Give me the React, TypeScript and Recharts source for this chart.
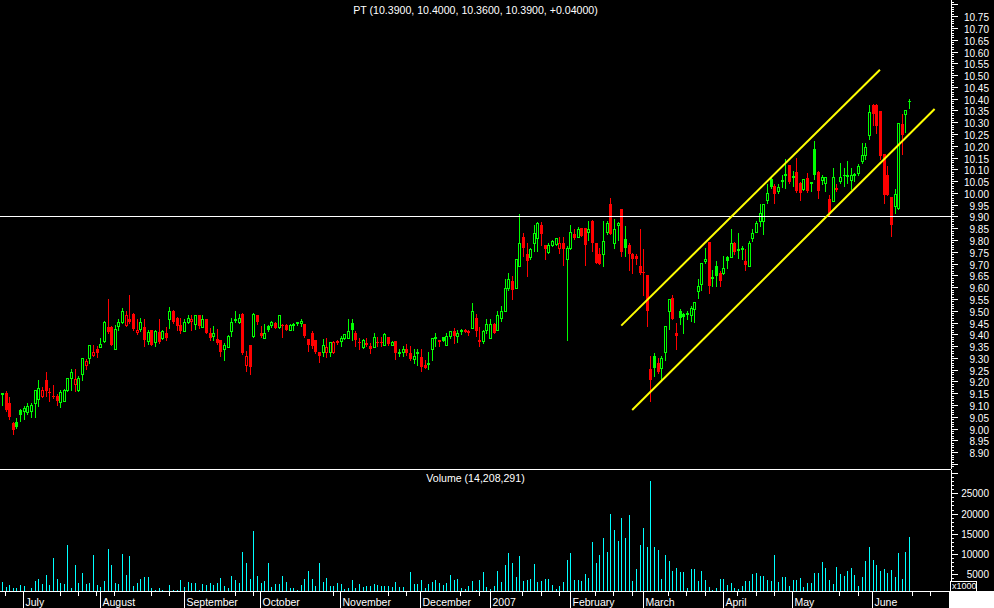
import { ComposedChart, Bar, XAxis, YAxis, ReferenceLine } from 'recharts'

// PT daily bars, 23 Jun 2006 .. 15 Jun 2007
const open = [
  9.150, 9.152, 9.107, 9.022, 9.030, 9.077, 9.074, 9.070, 9.073, 9.107,
  9.126, 9.138, 9.208, 9.157, 9.140, 9.138, 9.114, 9.118, 9.163, 9.213,
  9.191, 9.163, 9.230, 9.269, 9.299, 9.311, 9.336, 9.346, 9.371, 9.433,
  9.432, 9.337, 9.437, 9.452, 9.440, 9.463, 9.487, 9.408, 9.422, 9.432,
  9.371, 9.419, 9.368, 9.411, 9.385, 9.404, 9.463, 9.501, 9.470, 9.440,
  9.413, 9.452, 9.456, 9.442, 9.480, 9.432, 9.463, 9.404, 9.392, 9.382,
  9.374, 9.338, 9.346, 9.413, 9.463, 9.453, 9.487, 9.269, 9.353, 9.392,
  9.480, 9.404, 9.385, 9.435, 9.438, 9.449, 9.432, 9.440, 9.440, 9.420,
  9.441, 9.452, 9.449, 9.442, 9.381, 9.404, 9.374, 9.324, 9.324, 9.324,
  9.324, 9.325, 9.371, 9.371, 9.384, 9.384, 9.449, 9.404, 9.366, 9.347,
  9.358, 9.350, 9.347, 9.369, 9.368, 9.354, 9.389, 9.354, 9.372, 9.319,
  9.326, 9.336, 9.319, 9.297, 9.324, 9.303, 9.268, 9.278, 9.338, 9.388,
  9.374, 9.389, 9.354, 9.392, 9.413, 9.392, 9.418, 9.420, 9.416, 9.428,
  9.470, 9.374, 9.371, 9.420, 9.385, 9.442, 9.420, 9.470, 9.498, 9.597,
  9.626, 9.597, 9.689, 9.814, 9.739, 9.729, 9.788, 9.809, 9.862, 9.777,
  9.749, 9.781, 9.785, 9.767, 9.788, 9.720, 9.767, 9.824, 9.814, 9.852,
  9.852, 9.834, 9.883, 9.788, 9.739, 9.739, 9.834, 9.951, 9.788, 9.866,
  9.930, 9.805, 9.777, 9.739, 9.732, 9.692, 9.664, 9.650, 9.251, 9.307,
  9.279, 9.258, 9.324, 9.498, 9.555, 9.404, 9.501, 9.488, 9.487, 9.484,
  9.508, 9.583, 9.614, 9.710, 9.791, 9.642, 9.692, 9.661, 9.661, 9.729,
  9.729, 9.788, 9.760, 9.766, 9.710, 9.689, 9.809, 9.834, 9.880, 9.880,
  9.969, 10.057, 10.029, 10.007, 10.052, 10.077, 10.118, 10.068, 10.090, 10.043,
  10.017, 10.064, 10.044, 10.187, 10.090, 10.054, 10.043, 9.975, 9.965, 10.022,
  10.050, 10.078, 10.072, 10.054, 10.077, 10.085, 10.135, 10.163, 10.244, 10.375,
  10.375, 10.347, 10.166, 10.074, 9.983, 9.944, 9.937, 10.293, 10.333, 10.39,
]

const high = [
  9.153, 9.160, 9.135, 9.030, 9.046, 9.085, 9.095, 9.107, 9.107, 9.165,
  9.208, 9.175, 9.242, 9.173, 9.185, 9.145, 9.162, 9.166, 9.213, 9.251,
  9.251, 9.222, 9.300, 9.297, 9.355, 9.355, 9.350, 9.385, 9.456, 9.548,
  9.435, 9.440, 9.463, 9.512, 9.498, 9.569, 9.490, 9.463, 9.470, 9.463,
  9.420, 9.420, 9.420, 9.463, 9.420, 9.433, 9.517, 9.505, 9.474, 9.470,
  9.463, 9.480, 9.480, 9.484, 9.482, 9.480, 9.466, 9.425, 9.435, 9.423,
  9.376, 9.364, 9.399, 9.470, 9.501, 9.488, 9.490, 9.329, 9.355, 9.490,
  9.482, 9.435, 9.442, 9.440, 9.456, 9.452, 9.484, 9.442, 9.442, 9.442,
  9.449, 9.453, 9.463, 9.445, 9.382, 9.416, 9.376, 9.326, 9.381, 9.385,
  9.368, 9.372, 9.378, 9.392, 9.402, 9.463, 9.463, 9.413, 9.385, 9.381,
  9.385, 9.364, 9.404, 9.387, 9.389, 9.404, 9.390, 9.372, 9.373, 9.336,
  9.350, 9.357, 9.350, 9.336, 9.336, 9.336, 9.293, 9.327, 9.385, 9.404,
  9.375, 9.390, 9.404, 9.416, 9.425, 9.418, 9.423, 9.421, 9.420, 9.531,
  9.487, 9.431, 9.420, 9.463, 9.463, 9.449, 9.498, 9.520, 9.633, 9.661,
  9.647, 9.720, 9.911, 9.828, 9.788, 9.767, 9.862, 9.876, 9.876, 9.781,
  9.788, 9.800, 9.809, 9.814, 9.814, 9.774, 9.862, 9.845, 9.856, 9.853,
  9.853, 9.883, 9.884, 9.789, 9.767, 9.883, 9.883, 9.979, 9.890, 9.876,
  9.932, 9.859, 9.788, 9.746, 9.740, 9.845, 9.760, 9.652, 9.310, 9.322,
  9.300, 9.307, 9.435, 9.548, 9.569, 9.449, 9.508, 9.491, 9.498, 9.520,
  9.539, 9.633, 9.701, 9.767, 9.792, 9.672, 9.710, 9.668, 9.732, 9.732,
  9.845, 9.791, 9.831, 9.774, 9.760, 9.795, 9.845, 9.882, 9.954, 9.954,
  10.036, 10.064, 10.036, 10.036, 10.078, 10.142, 10.120, 10.092, 10.149, 10.045,
  10.057, 10.085, 10.047, 10.220, 10.092, 10.074, 10.068, 9.993, 10.107, 10.036,
  10.128, 10.107, 10.135, 10.107, 10.085, 10.121, 10.213, 10.213, 10.375, 10.376,
  10.376, 10.348, 10.167, 10.116, 9.984, 10.015, 10.297, 10.337, 10.347, 10.40,
]

const low = [
  9.099, 9.074, 9.039, 8.975, 9.002, 9.032, 9.041, 9.060, 9.049, 9.049,
  9.095, 9.133, 9.138, 9.116, 9.129, 9.102, 9.092, 9.116, 9.160, 9.163,
  9.159, 9.159, 9.208, 9.251, 9.279, 9.307, 9.305, 9.346, 9.367, 9.406,
  9.354, 9.337, 9.418, 9.449, 9.435, 9.447, 9.420, 9.400, 9.413, 9.350,
  9.357, 9.354, 9.350, 9.364, 9.381, 9.375, 9.428, 9.450, 9.418, 9.406,
  9.413, 9.449, 9.420, 9.423, 9.428, 9.430, 9.404, 9.375, 9.378, 9.361,
  9.307, 9.290, 9.346, 9.395, 9.452, 9.449, 9.316, 9.244, 9.230, 9.389,
  9.442, 9.389, 9.385, 9.416, 9.432, 9.425, 9.428, 9.389, 9.418, 9.418,
  9.420, 9.440, 9.435, 9.390, 9.329, 9.343, 9.322, 9.282, 9.307, 9.305,
  9.307, 9.320, 9.357, 9.350, 9.381, 9.384, 9.378, 9.350, 9.336, 9.343,
  9.350, 9.322, 9.347, 9.350, 9.350, 9.353, 9.353, 9.353, 9.297, 9.307,
  9.310, 9.314, 9.293, 9.279, 9.268, 9.244, 9.258, 9.251, 9.289, 9.350,
  9.350, 9.370, 9.353, 9.385, 9.364, 9.367, 9.401, 9.408, 9.398, 9.428,
  9.395, 9.350, 9.364, 9.406, 9.385, 9.404, 9.420, 9.456, 9.498, 9.590,
  9.548, 9.597, 9.689, 9.732, 9.647, 9.718, 9.753, 9.753, 9.781, 9.720,
  9.746, 9.774, 9.777, 9.743, 9.693, 9.375, 9.764, 9.805, 9.814, 9.817,
  9.693, 9.802, 9.753, 9.703, 9.700, 9.692, 9.824, 9.824, 9.767, 9.802,
  9.732, 9.732, 9.672, 9.661, 9.700, 9.654, 9.569, 9.435, 9.116, 9.222,
  9.236, 9.201, 9.293, 9.421, 9.463, 9.336, 9.442, 9.406, 9.463, 9.456,
  9.452, 9.555, 9.590, 9.701, 9.576, 9.604, 9.604, 9.604, 9.654, 9.682,
  9.729, 9.739, 9.725, 9.718, 9.672, 9.689, 9.795, 9.834, 9.859, 9.824,
  9.958, 10.022, 9.958, 9.998, 10.026, 10.022, 10.044, 10.029, 10.005, 9.972,
  10.011, 10.005, 10.007, 10.057, 9.979, 10.036, 10.007, 9.901, 9.965, 10.007,
  10.043, 10.029, 10.043, 10.015, 10.050, 10.078, 10.128, 10.142, 10.227, 10.290,
  10.255, 10.142, 9.958, 9.990, 9.817, 9.916, 9.933, 10.167, 10.258, 10.36,
]

const close = [
  9.152, 9.078, 9.049, 8.993, 9.008, 9.057, 9.088, 9.098, 9.100, 9.163,
  9.173, 9.163, 9.160, 9.155, 9.138, 9.116, 9.155, 9.163, 9.213, 9.241,
  9.211, 9.213, 9.300, 9.288, 9.355, 9.327, 9.321, 9.357, 9.453, 9.411,
  9.354, 9.423, 9.452, 9.500, 9.483, 9.452, 9.422, 9.420, 9.453, 9.377,
  9.412, 9.355, 9.413, 9.368, 9.416, 9.384, 9.501, 9.452, 9.435, 9.415,
  9.452, 9.469, 9.465, 9.481, 9.437, 9.463, 9.405, 9.385, 9.404, 9.364,
  9.324, 9.355, 9.395, 9.453, 9.455, 9.470, 9.319, 9.310, 9.261, 9.487,
  9.452, 9.392, 9.404, 9.420, 9.453, 9.428, 9.481, 9.437, 9.420, 9.440,
  9.443, 9.445, 9.456, 9.392, 9.354, 9.352, 9.324, 9.307, 9.355, 9.348,
  9.368, 9.366, 9.364, 9.385, 9.402, 9.416, 9.418, 9.374, 9.364, 9.374,
  9.364, 9.336, 9.388, 9.368, 9.366, 9.402, 9.357, 9.368, 9.322, 9.327,
  9.338, 9.322, 9.297, 9.307, 9.326, 9.261, 9.258, 9.280, 9.385, 9.390,
  9.368, 9.371, 9.395, 9.416, 9.392, 9.404, 9.420, 9.412, 9.404, 9.501,
  9.413, 9.367, 9.416, 9.442, 9.444, 9.406, 9.484, 9.498, 9.597, 9.633,
  9.590, 9.718, 9.788, 9.767, 9.710, 9.760, 9.828, 9.873, 9.824, 9.760,
  9.781, 9.795, 9.809, 9.788, 9.760, 9.767, 9.834, 9.809, 9.845, 9.819,
  9.778, 9.845, 9.788, 9.703, 9.700, 9.798, 9.873, 9.824, 9.845, 9.873,
  9.750, 9.767, 9.739, 9.720, 9.718, 9.661, 9.660, 9.498, 9.208, 9.258,
  9.239, 9.300, 9.435, 9.548, 9.466, 9.393, 9.470, 9.472, 9.489, 9.512,
  9.539, 9.604, 9.701, 9.718, 9.604, 9.645, 9.648, 9.626, 9.682, 9.710,
  9.788, 9.749, 9.764, 9.767, 9.696, 9.788, 9.828, 9.873, 9.913, 9.954,
  9.998, 10.024, 9.996, 10.024, 10.054, 10.079, 10.046, 10.072, 10.007, 10.000,
  10.057, 10.007, 10.046, 10.074, 10.007, 10.068, 10.069, 9.916, 10.068, 10.012,
  10.068, 10.070, 10.074, 10.075, 10.079, 10.114, 10.163, 10.196, 10.344, 10.333,
  10.286, 10.156, 9.993, 9.990, 9.866, 9.996, 10.297, 10.244, 10.350, 10.39,
]

// volume in thousands of shares
const volume = [
  3020, 1870, 2370, 1630, 1710, 2370, 2120, 1000, 1710, 3350,
  3850, 2700, 4830, 2370, 9030, 3850, 2860, 2610, 12240, 1630,
  7300, 2860, 5330, 2610, 2860, 9770, 2370, 1870, 3350, 11260,
  7300, 2860, 2610, 10020, 4830, 9520, 2120, 2860, 3850, 4340,
  4340, 1630, 1130, 1630, 1130, 950, 2370, 1130, 1130, 3600,
  1870, 3110, 2860, 2860, 1130, 2610, 2370, 2860, 2370, 2860,
  4090, 2120, 1630, 4590, 3600, 2860, 10510, 7800, 3850, 15700,
  4590, 2860, 3350, 7800, 1870, 2610, 2610, 4590, 3110, 1630,
  1630, 1130, 2370, 3850, 5820, 3850, 2120, 7800, 3110, 4090,
  2120, 2120, 2860, 2610, 1380, 1630, 3600, 1630, 2610, 1870,
  2120, 2120, 2610, 2370, 2120, 2120, 2120, 1870, 3110, 1870,
  1870, 950, 5580, 2610, 2610, 3600, 1630, 2610, 3110, 3600,
  2860, 2370, 2860, 4830, 3600, 3850, 1630, 1380, 2120, 3350,
  1130, 3600, 5580, 1870, 1380, 2200, 5820, 3110, 7300, 10270,
  7800, 4340, 9520, 3350, 3600, 3850, 7550, 3110, 3350, 3850,
  3850, 2370, 1380, 2120, 3110, 8540, 10270, 3600, 3600, 3350,
  5080, 4090, 12980, 7800, 9770, 13970, 10510, 19900, 15940, 13230,
  18910, 13970, 19650, 3350, 6320, 12240, 16440, 11750, 28040, 11750,
  11010, 3850, 9770, 8290, 5820, 6560, 5580, 5580, 1630, 6320,
  6320, 3350, 5820, 3600, 1870, 1130, 1630, 3850, 3850, 2370,
  2860, 1630, 1380, 2120, 3350, 3350, 5080, 5330, 4590, 4590,
  3600, 3350, 9770, 3110, 4340, 4340, 2120, 3600, 3600, 4090,
  1870, 2860, 2860, 5330, 5330, 8040, 6560, 3600, 2610, 6810,
  5080, 4590, 5820, 6560, 4830, 2120, 4340, 8290, 11750, 8540,
  7300, 5820, 6320, 5330, 6070, 4340, 10270, 3850, 10510, 14208.291,
]

const months = ['July', 'August', 'September', 'October', 'November', 'December', '2007', 'February', 'March', 'April', 'May', 'June', '']
const monthStarts = [6, 27, 50, 71, 93, 115, 134, 156, 176, 198, 217, 239, 260]
const weekTicks = [1, 16, 21, 26, 31, 41, 46, 64, 69, 91, 106, 111, 126, 131, 143, 148, 153, 163, 168, 173, 183, 188, 193, 202, 207, 212, 230, 235, 250, 255]

const priceLabels = [
  8.9, 8.95, 9.0, 9.05, 9.1, 9.15, 9.2, 9.25, 9.3, 9.35, 9.4, 9.45, 9.5, 9.55, 9.6, 9.65, 9.7, 9.75, 9.8,
  9.85, 9.9, 9.95, 10.0, 10.05, 10.1, 10.15, 10.2, 10.25, 10.3, 10.35, 10.4, 10.45, 10.5, 10.55, 10.6,
  10.65, 10.7, 10.75,
]
const volumeLabels = [5000, 10000, 15000, 20000, 25000]

const supportLevel = 9.9
// hand-drawn channel (bar index, price)
const channelLines = [
  [{ x: 170, y: 9.437 }, { x: 241, y: 10.523 }],
  [{ x: 173, y: 9.079 }, { x: 256, y: 10.356 }],
]

const SLOTS = 261
const AXIS_X = 951
const PRICE_DOMAIN: [number, number] = [8.8286, 10.8186]
const VOL_DOMAIN: [number, number] = [885, 30760]
const FONT = '"Liberation Sans", Arial, sans-serif'
const GREEN = '#00ff00'
const RED = '#ff0000'
const CYAN = '#00ffff'
const YELLOW = '#ffff00'

const rows = Array.from({ length: SLOTS }, (_, i) =>
  i < open.length
    ? { i, o: open[i], h: high[i], l: low[i], c: close[i], pc: i > 0 ? close[i - 1] : open[i], v: volume[i] }
    : { i }
)

// minor axis ticks (unlabelled)
const priceTicks: number[] = []
for (let k = 884; k <= 1081; k++) priceTicks.push(k / 100)
const volumeTicks: number[] = []
for (let k = 1; k <= 30; k++) volumeTicks.push(k * 1000)

const Candle = (props: any) => {
  const { x, y, width, height, payload } = props
  if (payload == null || payload.h == null) return null
  const top = Math.min(y, y + height)
  const span = Math.abs(height)
  const py = (p: number) => top + ((payload.h - p) / (payload.h - payload.l || 1)) * span
  const cx = Math.round(x + width / 2)
  const color = payload.c >= payload.pc ? GREEN : RED
  const bTop = Math.round(py(Math.max(payload.o, payload.c)))
  const bBot = Math.round(py(Math.min(payload.o, payload.c)))
  const hollow = payload.c > payload.o
  return (
    <g>
      <line x1={cx + 0.5} x2={cx + 0.5} y1={Math.round(top)} y2={Math.round(top + span) + 1} stroke={color} strokeWidth={1} />
      {hollow ? (
        <rect x={cx - 0.5} y={bTop + 0.5} width={2} height={Math.max(bBot - bTop, 1)} fill="#000" stroke={color} strokeWidth={1} />
      ) : (
        <rect x={cx - 1} y={bTop} width={3} height={Math.max(bBot - bTop, 1)} fill={color} />
      )}
    </g>
  )
}

const VolumeBar = (props: any) => {
  const { x, y, width, height } = props
  if (!height) return null
  const cx = Math.round(x + width / 2)
  const t = Math.round(y)
  return <rect x={cx} y={t} width={1} height={Math.round(y + height) - t} fill={CYAN} />
}

const PriceTick = (props: any) => {
  const { y, payload } = props
  const v = payload.value
  const major = Math.round(v * 100) % 5 === 0
  const labelled = priceLabels.some(p => Math.abs(p - v) < 0.001)
  const yy = Math.round(y) + 0.5
  return (
    <g>
      <line x1={AXIS_X} x2={AXIS_X + (major ? 7 : 3)} y1={yy} y2={yy} stroke="#fff" />
      {labelled && (
        <text x={989} y={y + 1.5} textAnchor="end" dominantBaseline="central" fill="#fff" fontSize={10} fontFamily={FONT}>
          {v.toFixed(2)}
        </text>
      )}
    </g>
  )
}

const VolumeTick = (props: any) => {
  const { y, payload } = props
  const v = payload.value
  const major = v % 5000 === 0
  const yy = Math.round(y) + 0.5
  return (
    <g>
      <line x1={AXIS_X} x2={AXIS_X + (major ? 7 : 3)} y1={yy} y2={yy} stroke="#fff" />
      {volumeLabels.includes(v) && (
        <text x={989} y={y + 0.5} textAnchor="end" dominantBaseline="central" fill="#fff" fontSize={10} fontFamily={FONT}>
          {v}
        </text>
      )}
    </g>
  )
}

const DateTick = (props: any) => {
  const { x, payload } = props
  const base = 121
  const m = monthStarts.indexOf(payload.value)
  const xx = Math.floor(x) + 0.5
  if (m < 0) return <line x1={xx} x2={xx} y1={base} y2={base + 5} stroke="#fff" />
  return (
    <g>
      <line x1={xx} x2={xx} y1={base} y2={base + 17} stroke="#fff" />
      <text x={xx + 2} y={base + 14.5} fill="#fff" fontSize={10.5} fontFamily={FONT}>
        {months[m]}
      </text>
    </g>
  )
}

const crispWhite = { stroke: '#fff', shapeRendering: 'crispEdges' }

export default function App() {
  const n = open.length - 1
  const change = close[n] - close[n - 1]
  const title = `PT (${open[n].toFixed(4)}, ${high[n].toFixed(4)}, ${low[n].toFixed(4)}, ${close[n].toFixed(4)}, ${change >= 0 ? '+' : ''}${change.toFixed(5)})`
  const volTitle = `Volume (${Math.round(volume[n] * 1000).toLocaleString('en-US')})`

  return (
    <div style={{ position: 'absolute', left: 0, top: 0, width: 994, height: 608, background: '#000', overflow: 'hidden', fontFamily: FONT }}>
      <div style={{ position: 'absolute', left: 0, top: 0 }}>
        <ComposedChart width={994} height={470} data={rows} margin={{ top: 0, right: 0, bottom: 0, left: 0 }}>
          <XAxis dataKey="i" type="category" height={1} tick={false} tickLine={false} axisLine={crispWhite} />
          <YAxis
            orientation="right"
            width={43}
            domain={PRICE_DOMAIN}
            allowDataOverflow
            ticks={priceTicks}
            interval={0}
            tickLine={false}
            axisLine={crispWhite}
            tick={(p: any) => <PriceTick {...p} />}
          />
          <ReferenceLine y={supportLevel} stroke="#fff" strokeWidth={1} shapeRendering="crispEdges" />
          <Bar dataKey={(d: any) => (d.h == null ? null : [d.l, d.h])} shape={(p: any) => <Candle {...p} />} isAnimationActive={false} />
          {channelLines.map((seg, k) => (
            <ReferenceLine key={k} segment={seg} stroke={YELLOW} strokeWidth={2} />
          ))}
        </ComposedChart>
      </div>
      <div style={{ position: 'absolute', left: 0, top: 470 }}>
        <ComposedChart width={994} height={138} data={rows} margin={{ top: 0, right: 0, bottom: 0, left: 0 }}>
          <XAxis
            dataKey="i"
            type="category"
            height={17}
            ticks={[...weekTicks, ...monthStarts]}
            interval={0}
            tickLine={false}
            axisLine={crispWhite}
            tick={(p: any) => <DateTick {...p} />}
          />
          <YAxis
            orientation="right"
            width={43}
            domain={VOL_DOMAIN}
            allowDataOverflow
            ticks={volumeTicks}
            interval={0}
            tickLine={false}
            axisLine={crispWhite}
            tick={(p: any) => <VolumeTick {...p} />}
          />
          <Bar dataKey="v" shape={(p: any) => <VolumeBar {...p} />} isAnimationActive={false} />
        </ComposedChart>
      </div>
      <div style={{ position: 'absolute', left: 0, top: 3, width: 951, textAlign: 'center', color: '#fff', fontSize: 10.6, lineHeight: '14px' }}>
        {title}
      </div>
      <div style={{ position: 'absolute', left: 0, top: 471, width: 951, textAlign: 'center', color: '#fff', fontSize: 10.6, lineHeight: '14px' }}>
        {volTitle}
      </div>
      <div style={{ position: 'absolute', left: 950, top: 581, width: 27, height: 11, boxSizing: 'border-box', border: '1px solid #fff', background: '#000', color: '#fff', fontSize: 9, lineHeight: '9px', paddingLeft: 1 }}>
        x1000
      </div>
      <div style={{ position: 'absolute', left: 950, top: 591, width: 44, height: 17, background: '#fff' }} />
    </div>
  )
}
